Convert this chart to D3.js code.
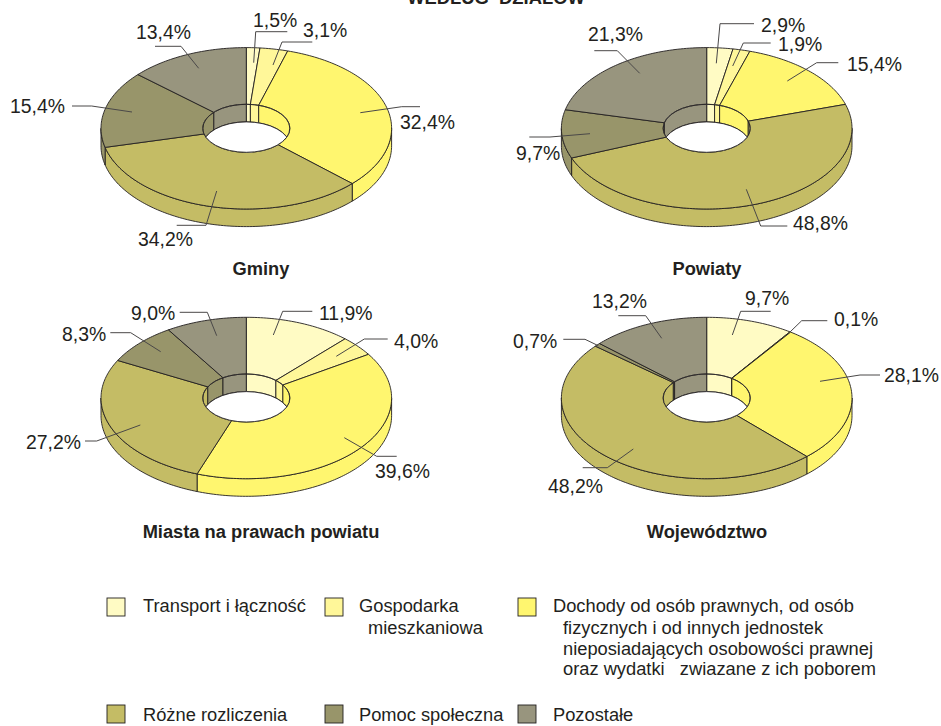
<!DOCTYPE html>
<html><head><meta charset="utf-8">
<script src="https://cdn.jsdelivr.net/npm/d3@7"></script>
<style>html,body{margin:0;background:#fff}svg{display:block}text{font-family:"Liberation Sans",Arial,sans-serif;fill:#231f20}</style>
</head><body><div id="c"></div>
<script>
const categories=["Transport i łączność","Gospodarka mieszkaniowa","Dochody od osób prawnych","Różne rozliczenia","Pomoc społeczna","Pozostałe"];
const colors=["#fffbc4","#fff799","#fff66f","#c4bc65","#98956a","#98957e"];
const gminy=[1.5,3.1,32.4,34.2,15.4,13.4];
const powiaty=[2.9,1.9,15.4,48.8,9.7,21.3];
const miasta=[11.9,4.0,39.6,27.2,8.3,9.0];
const wojewodztwo=[9.7,0.1,28.1,48.2,0.7,13.2];
const pieTitles=["Gminy","Powiaty","Miasta na prawach powiatu","Województwo"];
const fmt=v=>v.toFixed(1).replace(".",",")+"%";

// layout (not data)
const W=941,H=726,RX=145.3,RY=80.7,IRX=43.5,IRY=24,DEPTH=17.6;
const layout=[
 {cx:246.3,cy:128.3,title:[261,275],
  labels:[[253,27,[[253.7,62.7],[255.7,31.7],[287.3,31.7]]],[303,37,[[273,65],[282,42],[312.3,42]]],[400,129,[[360.3,112.7],[401.7,106.7],[420,106.7]]],[138,246,[[216.7,191],[206,225.3],[176.7,225.3]]],[10,113,[[132,112],[91.7,106],[72,106]]],[136,39,[[198.7,68.3],[181,46.3],[155,46.3]]]]},
 {cx:706.7,cy:128.3,title:[707,275],
  labels:[[761,32,[[716.3,63.3],[720,23.7],[754,23.7]]],[778,51,[[732.7,66],[743.3,43],[770.7,43]]],[847,71,[[787.3,81],[816.7,62.7],[838.3,62.7]]],[793,230,[[746.3,189.3],[760.7,226],[787.3,226]]],[516,160,[[590,133.7],[550,137],[529.3,137]]],[588,41,[[639.7,73.3],[617.3,50.7],[594.3,50.7]]]]},
 {cx:246.3,cy:398,title:[261,538],
  labels:[[319,320,[[273.3,335],[282.7,311.3],[312.3,311.3]]],[394,348,[[336.3,356.3],[364.3,339],[387.7,339]]],[375,477.7,[[344.3,437.7],[376.7,456.3],[396.7,456.3]]],[26,449,[[140.3,425],[96.7,441],[85,441]]],[62,341,[[160.7,351.7],[130.7,332.7],[110.3,332.7]]],[131,320,[[216.7,335.7],[207.3,312.3],[179.7,312.3]]]]},
 {cx:706.7,cy:398,title:[707,538],
  labels:[[745,305,[[732.3,335],[740.7,311.3],[770.7,311.3]]],[834,326,[[790,332],[801.7,320.7],[827.3,320.7]]],[884,382,[[820,381.3],[860,375],[880,375]]],[548,492.7,[[633.3,449],[607.3,467.7],[582.7,467.7]]],[513,348,[[598.3,345.7],[585,339.3],[563.3,339.3]]],[592,308,[[661.7,338.3],[645.7,315.7],[618.3,315.7]]]]}
];
const series=[gminy,powiaty,miasta,wojewodztwo];

const svg=d3.select("#c").append("svg").attr("width",W).attr("height",H);
const color=d3.scaleOrdinal().domain(categories).range(colors);
const pieGen=d3.pie().sort(null).value(d=>d);
const STROKE="#231f20";
const defs=svg.append("defs");

function arcPts(cx,cy,rx,ry,a0,a1){
  const n=Math.max(2,Math.ceil(Math.abs(a1-a0)/0.02));
  return d3.range(n+1).map(i=>{const t=a0+(a1-a0)*i/n;return [cx+rx*Math.sin(t),cy-ry*Math.cos(t)];});
}
const line=d3.line();
const PI=Math.PI;

series.forEach((vals,si)=>{
  const L=layout[si],cx=L.cx,cy=L.cy;
  const g=svg.append("g");
  const arcs=pieGen(vals);
  const clipId="hole"+si;
  defs.append("clipPath").attr("id",clipId).append("ellipse").attr("cx",cx).attr("cy",cy).attr("rx",IRX).attr("ry",IRY);

  // outer wall (front half only)
  arcs.forEach((d,i)=>{
    const a0=Math.max(d.startAngle,PI/2),a1=Math.min(d.endAngle,3*PI/2);
    if(a1<=a0) return;
    const top=arcPts(cx,cy,RX,RY,a0,a1);
    const bot=arcPts(cx,cy+DEPTH,RX,RY,a1,a0);
    g.append("path").attr("d",line(top.concat(bot))+"Z").attr("fill",colors[i]).attr("stroke",STROKE).attr("stroke-width",0.9).attr("stroke-linejoin","round");
  });
  // top slices
  arcs.forEach((d,i)=>{
    const o=arcPts(cx,cy,RX,RY,d.startAngle,d.endAngle);
    const n=arcPts(cx,cy,IRX,IRY,d.endAngle,d.startAngle);
    g.append("path").attr("d",line(o.concat(n))+"Z").attr("fill",colors[i]).attr("stroke",STROKE).attr("stroke-width",0.9).attr("stroke-linejoin","round");
  });
  // hole: inner wall (back half) then see-through
  const hole=g.append("g").attr("clip-path",`url(#${clipId})`);
  hole.append("rect").attr("x",cx-IRX-2).attr("y",cy-IRY-2).attr("width",2*IRX+4).attr("height",2*IRY+4).attr("fill","#fff");
  arcs.forEach((d,i)=>{
    const a0=Math.max(d.startAngle,0),a1=Math.min(d.endAngle,PI/2);
    const b0=Math.max(d.startAngle,3*PI/2),b1=Math.min(d.endAngle,2*PI);
    [[a0,a1],[b0,b1]].forEach(([s,e])=>{
      if(e<=s) return;
      const t=arcPts(cx,cy,IRX,IRY,s,e),b=arcPts(cx,cy+DEPTH,IRX,IRY,e,s);
      hole.append("path").attr("d",line(t.concat(b))+"Z").attr("fill",colors[i]).attr("stroke",STROKE).attr("stroke-width",0.9);
    });
  });
  hole.append("ellipse").attr("cx",cx).attr("cy",cy+DEPTH).attr("rx",IRX).attr("ry",IRY).attr("fill","#fff").attr("stroke",STROKE).attr("stroke-width",0.9);
  g.append("ellipse").attr("cx",cx).attr("cy",cy).attr("rx",IRX).attr("ry",IRY).attr("fill","none").attr("stroke",STROKE).attr("stroke-width",0.9);

  // leaders and labels
  vals.forEach((v,i)=>{
    const lab=L.labels[i];
    g.append("path").attr("d",line(lab[2])).attr("fill","none").attr("stroke","#4a4848").attr("stroke-width",1);
    g.append("text").attr("x",lab[0]).attr("y",lab[1]).attr("font-size",19.4).text(fmt(v));
  });
  svg.append("text").attr("x",L.title[0]).attr("y",L.title[1]).attr("text-anchor","middle").attr("font-size",18.3).attr("font-weight","bold").text(pieTitles[si]);
});

svg.append("text").attr("x",496).attr("y",4).attr("text-anchor","middle").attr("font-size",18.4).attr("font-weight","bold").style("white-space","pre").text("WEDŁUG  DZIAŁÓW");

// legend
const legendBoxes=[[107,598],[325,598],[518,598],[107,705],[325,705],[518,705]];
const legendLines=[
 [[143,612,"Transport i łączność"]],
 [[359,612,"Gospodarka"],[368,634,"mieszkaniowa"]],
 [[553,612,"Dochody od osób prawnych, od osób"],[563,634,"fizycznych i od innych jednostek"],[563,655,"nieposiadających osobowości prawnej"],[563,675,"oraz wydatki   zwiazane z ich poborem"]],
 [[143,721,"Różne rozliczenia"]],
 [[359,721,"Pomoc społeczna"]],
 [[553,721,"Pozostałe"]]
];
const lg=svg.append("g");
categories.forEach((c,i)=>{
  const b=legendBoxes[i];
  lg.append("rect").attr("x",b[0]).attr("y",b[1]).attr("width",18).attr("height",18).attr("fill",color(c)).attr("stroke",STROKE).attr("stroke-width",0.9);
  legendLines[i].forEach(t=>lg.append("text").attr("x",t[0]).attr("y",t[1]).attr("font-size",18.3).style("white-space","pre").text(t[2]));
});
</script></body></html>
